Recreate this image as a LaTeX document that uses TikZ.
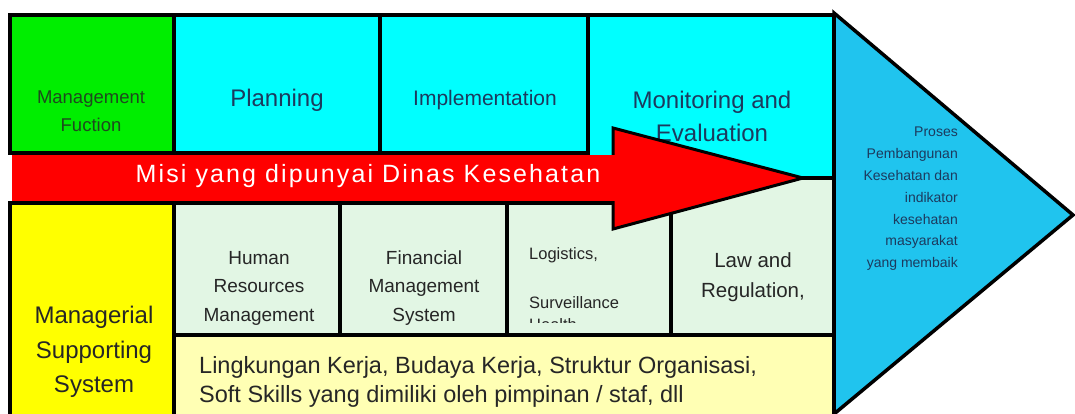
\documentclass[tikz,border=0pt]{standalone}
\usepackage{fontspec}
\setmainfont{Liberation Sans}
\newfontfamily\misifont[LetterSpace=8.5]{Liberation Sans}
\definecolor{fungreen}{HTML}{00EE00}
\definecolor{funcyan}{HTML}{00FFFF}
\definecolor{supyellow}{HTML}{FFFF00}
\definecolor{supmint}{HTML}{E2F6E4}
\definecolor{envyellow}{HTML}{FFFFB4}
\definecolor{outblue}{HTML}{20C4EE}
\definecolor{misired}{HTML}{FF0000}
\definecolor{inknavy}{HTML}{1C3A5E}
\definecolor{inkgreen}{HTML}{1E4A1E}
\definecolor{inkgray}{HTML}{262626}
\begin{document}
\begin{tikzpicture}[x=1pt, y=-1pt,
    cell/.style={draw=black, line width=3.5pt, line join=miter},
    lbl/.style={align=center, inner sep=0pt, text=inkgray}]
\useasboundingbox (0,0) rectangle (1075,414);
\clip (0,0) rectangle (1075,414);
% management functions
\draw[cell, fill=fungreen] (10,15) rectangle (174,153);
\draw[cell, fill=funcyan] (174,15) rectangle (380,153);
\draw[cell, fill=funcyan] (380,15) rectangle (588,153);
\draw[cell, fill=funcyan] (588,15) rectangle (834,178);
\node[lbl, text=inkgreen, font=\fontsize{18.5}{28}\selectfont] (mfunc) at (91,111) {Management\\Fuction};
\node[lbl, text=inknavy, font=\fontsize{24}{30}\selectfont] (plan) at (277,100) {Planning};
\node[lbl, text=inknavy, font=\fontsize{21}{24}\selectfont] (impl) at (485,100) {Implementation};
\node[lbl, text=inknavy, font=\fontsize{24}{33}\selectfont] (moni) at (712,116) {Monitoring and\\Evaluation};
% supporting system
\draw[cell, fill=supyellow] (10,203) rectangle (174,420);
\draw[cell, fill=supmint] (174,203) rectangle (340,335);
\draw[cell, fill=supmint] (340,203) rectangle (507,335);
\draw[cell, fill=supmint] (507,203) rectangle (671,335);
\draw[cell, fill=supmint] (671,178) rectangle (834,335);
\draw[cell, fill=envyellow] (174,335) rectangle (834,420);
\node[lbl, font=\fontsize{24}{34.5}\selectfont] (msys) at (94,352) {Managerial\\Supporting\\System};
\node[lbl, font=\fontsize{19}{28.5}\selectfont] (hrm) at (259,288) {Human\\Resources\\Management};
\node[lbl, font=\fontsize{19}{28.5}\selectfont] (fms) at (424,288) {Financial\\Management\\System};
\begin{scope}
  \clip (509,205) rectangle (669,322);
  \node[lbl, anchor=base west, font=\fontsize{16.5}{20}\selectfont] (logi) at (529,259) {Logistics,};
  \node[lbl, anchor=base west, font=\fontsize{16.5}{20}\selectfont] (surv) at (529,308) {Surveillance};
  \node[lbl, anchor=base west, font=\fontsize{16.5}{20}\selectfont] (hlth) at (529,330) {Health};
\end{scope}
\node[lbl, font=\fontsize{20.5}{30}\selectfont] (law) at (753,277) {Law and\\Regulation,};
\node[lbl, align=left, anchor=west, font=\fontsize{23.5}{29.5}\selectfont] (env) at (199,382)
  {Lingkungan Kerja, Budaya Kerja, Struktur Organisasi,\\Soft Skills yang dimiliki oleh pimpinan / staf, dll};
% mission arrow
\fill[misired] (12,155) rectangle (614,201);
\draw[cell, line width=3pt, fill=misired] (613,155) -- (613,128) -- (803,178) -- (613,229) -- (613,201);
\fill[misired] (600,156.5) rectangle (614.5,199.5);
\node[lbl, text=white, font=\fontsize{25}{28}\misifont] (misi) at (368,176) {Misi yang dipunyai Dinas Kesehatan};
% outcome
\draw[cell, fill=outblue] (834,13) -- (1073,215) -- (834,414) -- cycle;
\node[lbl, align=right, anchor=east, text=inknavy, font=\fontsize{14}{21.8}\selectfont] (outc) at (958,199)
  {Proses\\Pembangunan\\Kesehatan dan\\indikator\\kesehatan\\masyarakat\\yang membaik};
\end{tikzpicture}
\end{document}
